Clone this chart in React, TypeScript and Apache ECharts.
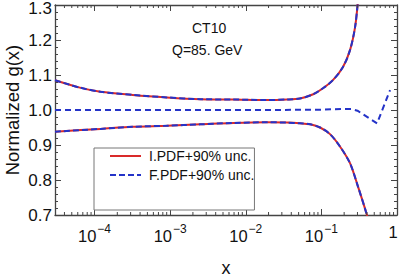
import { useEffect, useRef } from 'react';
import * as echarts from 'echarts';

// Axis ranges
const X_MIN = 3e-5;
const X_MAX = 1;
const Y_MIN = 0.7;
const Y_MAX = 1.3;
const Y_STEP = 0.1;

// Series names
const I_NAME = 'I.PDF+90% unc.';
const F_NAME = 'F.PDF+90% unc.';

// Upper edge of the 90% uncertainty band (I.PDF and F.PDF coincide)
const bandUpperX = [3e-5, 6.4e-5, 1.2e-4, 3.2e-4, 9e-4, 2.5e-3, 6.8e-3, 0.019, 0.035, 0.052, 0.078, 0.105, 0.143, 0.193, 0.239, 0.279, 0.305, 0.33];
const bandUpperY = [1.085, 1.064, 1.052, 1.043, 1.036, 1.031, 1.03, 1.0285, 1.03, 1.033, 1.045, 1.062, 1.086, 1.123, 1.171, 1.237, 1.313, 1.4];

// Lower edge of the band
const bandLowerX = [3e-5, 1.2e-4, 3.2e-4, 9e-4, 2.5e-3, 6.8e-3, 0.019, 0.035, 0.052, 0.071, 0.096, 0.13, 0.177, 0.239, 0.305, 0.4, 0.43];
const bandLowerY = [0.938, 0.946, 0.952, 0.955, 0.959, 0.963, 0.965, 0.964, 0.962, 0.959, 0.95, 0.931, 0.895, 0.848, 0.781, 0.7, 0.67];

// F.PDF central value (normalized)
const centralX = [3e-5, 1e-3, 0.02, 0.1, 0.2, 0.25, 0.3, 0.545, 0.81];
const centralY = [1.0, 1.0, 1.0, 1.001, 1.003, 1.003, 0.998, 0.962, 1.057];

// Annotations
const LABEL_PDF = 'CT10';
const LABEL_Q = 'Q=85. GeV';
const Y_NAME = 'Normalized g(x)';
const X_NAME = 'x';

const FONT = '"Liberation Sans", Arial, Helvetica, sans-serif';
const AXIS = '#444';
const RED = '#d92a2a';
const BLUE = '#2433c8';
const TEXT = '#111';

const LOG_MIN = Math.log10(X_MIN);
const LOG_MAX = Math.log10(X_MAX);

function minorLogTicks(): number[][] {
  const out: number[][] = [];
  for (let d = Math.floor(LOG_MIN); d < Math.ceil(LOG_MAX); d++) {
    for (let k = 2; k <= 9; k++) {
      const v = d + Math.log10(k);
      if (v > LOG_MIN && v < LOG_MAX) out.push([v, Y_MIN]);
    }
  }
  return out;
}

function toPairs(xs: number[], ys: number[]) {
  return xs.map((x, i) => [Math.log10(x), ys[i]]);
}

function lineSeries(name: string, xs: number[], ys: number[], color: string, dash: number[] | null, z: number, smooth: boolean | number) {
  return {
    type: 'line',
    name,
    data: toPairs(xs, ys),
    symbol: 'none',
    showSymbol: false,
    smooth,
    clip: true,
    silent: true,
    z,
    itemStyle: { color },
    lineStyle: { color, width: 2, type: dash ? dash : 'solid' },
  };
}

export default function App() {
  const ref = useRef<HTMLDivElement>(null);
  useEffect(() => {
    if (!ref.current) return;
    const chart = echarts.init(ref.current, undefined, { renderer: 'svg' });
    const xFormatter = (v: number) => {
      const e = Math.round(v);
      if (e === 0) return '{e|1}';
      return `{b|10}{s|${e < 0 ? '\u2212' : ''}${Math.abs(e)}}`;
    };
    const yFormatter = (v: number) => {
      const s = v.toFixed(1);
      return Math.abs(v - Y_MAX) < 1e-6 ? `{t|${s}}` : `{n|${s}}`;
    };
    const xAxisCommon = {
      type: 'value',
      min: LOG_MIN,
      max: LOG_MAX,
      splitLine: { show: false },
      axisLine: { show: true, onZero: false, lineStyle: { color: AXIS, width: 1.3 } },
      axisTick: { show: true, inside: true, length: 6, lineStyle: { color: AXIS, width: 1 } },
    };
    const yAxisCommon = {
      type: 'value',
      min: Y_MIN,
      max: Y_MAX,
      interval: Y_STEP,
      splitLine: { show: false },
      axisLine: { show: true, onZero: false, lineStyle: { color: AXIS, width: 1.3 } },
      axisTick: { show: true, inside: true, length: 6, lineStyle: { color: AXIS, width: 1 } },
      minorTick: { show: true, splitNumber: 5, length: 3, lineStyle: { color: AXIS, width: 1 } },
    };
    chart.setOption({
      animation: false,
      backgroundColor: '#fff',
      textStyle: { fontFamily: FONT },
      grid: { left: 55, right: 2, top: 5, bottom: 62, containLabel: false, outerBoundsMode: 'none' },
      xAxis: [
        {
          ...xAxisCommon,
          position: 'bottom',
          name: X_NAME,
          nameLocation: 'middle',
          nameGap: 44,
          nameTextStyle: { fontSize: 18, color: TEXT, fontFamily: FONT },
          axisLabel: {
            show: true,
            margin: 8,
            showMinLabel: false,
            formatter: xFormatter,
            color: TEXT,
            rich: {
              b: { fontSize: 16.5, fontFamily: FONT, color: TEXT, verticalAlign: 'bottom' },
              s: { fontSize: 12, fontFamily: FONT, color: TEXT, verticalAlign: 'bottom', padding: [0, 0, 9, 1] },
              e: { fontSize: 16.5, fontFamily: FONT, color: TEXT, verticalAlign: 'bottom', padding: [0, 8, 0, 0] },
            },
          },
        },
        {
          ...xAxisCommon,
          position: 'top',
          axisLabel: { show: false },
        },
      ],
      yAxis: [
        {
          ...yAxisCommon,
          position: 'left',
          name: Y_NAME,
          nameLocation: 'middle',
          nameRotate: 90,
          nameGap: 33,
          nameMoveOverlap: false,
          nameTextStyle: { fontSize: 18.5, color: TEXT, fontFamily: FONT },
          axisLabel: {
            show: true,
            margin: 3,
            color: TEXT,
            fontFamily: FONT,
            formatter: yFormatter,
            rich: {
              n: { fontSize: 17, fontFamily: FONT, color: TEXT },
              t: { fontSize: 17, fontFamily: FONT, color: TEXT, padding: [6, 0, 0, 0] },
            },
          },
        },
        {
          ...yAxisCommon,
          position: 'right',
          axisLabel: { show: false },
        },
      ],
      legend: {
        orient: 'vertical',
        left: 94,
        top: 148,
        data: [I_NAME, F_NAME],
        itemWidth: 31,
        itemHeight: 14,
        itemGap: 5,
        padding: [1, 0, 28, 15],
        borderColor: '#777',
        borderWidth: 1,
        backgroundColor: '#fff',
        selectedMode: false,
        itemStyle: { opacity: 0 },
        textStyle: { fontSize: 14, color: TEXT, fontFamily: FONT, padding: [0, 0, 0, 3] },
      },
      graphic: [
        {
          type: 'text',
          x: 192,
          y: 28,
          style: { text: LABEL_PDF, font: `14px ${FONT}`, fill: TEXT, verticalAlign: 'middle' },
        },
        {
          type: 'text',
          x: 172,
          y: 50,
          style: { text: LABEL_Q, font: `14px ${FONT}`, fill: TEXT, verticalAlign: 'middle' },
        },
      ],
      series: [
        lineSeries(I_NAME, bandUpperX, bandUpperY, RED, null, 2, 0.3),
        lineSeries(I_NAME, bandLowerX, bandLowerY, RED, null, 2, 0.3),
        lineSeries(F_NAME, bandUpperX, bandUpperY, BLUE, [6, 3], 3, 0.3),
        lineSeries(F_NAME, bandLowerX, bandLowerY, BLUE, [6, 3], 3, 0.3),
        lineSeries(F_NAME, centralX, centralY, BLUE, [6, 4], 3, false),
        {
          type: 'custom',
          name: 'minorTicks',
          silent: true,
          clip: false,
          z: 5,
          data: minorLogTicks(),
          encode: { x: 0, y: 1 },
          renderItem: (_params: any, api: any) => {
            const v = api.value(0);
            const b = api.coord([v, Y_MIN]);
            const t = api.coord([v, Y_MAX]);
            return {
              type: 'group',
              children: [
                { type: 'line', shape: { x1: b[0], y1: b[1], x2: b[0], y2: b[1] - 3 }, style: { stroke: AXIS, lineWidth: 1 } },
                { type: 'line', shape: { x1: t[0], y1: t[1], x2: t[0], y2: t[1] + 3 }, style: { stroke: AXIS, lineWidth: 1 } },
              ],
            };
          },
        },
      ],
    });
    return () => chart.dispose();
  }, []);
  return (
    <div
      ref={ref}
      style={{ position: 'fixed', left: 0, top: 0, width: 399, height: 277, background: '#fff' }}
    />
  );
}
